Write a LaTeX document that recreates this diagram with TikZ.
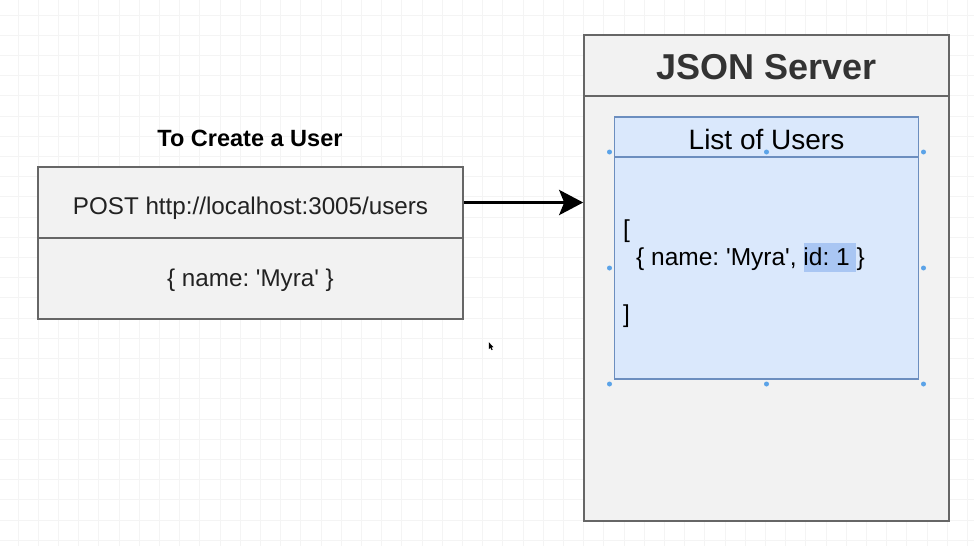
\documentclass[tikz,border=0pt]{standalone}
\usepackage{fontspec}
\setmainfont{Liberation Sans}
\usetikzlibrary{arrows.meta}
\frenchspacing
\definecolor{gridc}{HTML}{F4F4F4}
\definecolor{boxfill}{HTML}{F2F2F2}
\definecolor{boxline}{HTML}{666666}
\definecolor{listfill}{HTML}{DAE8FC}
\definecolor{listline}{HTML}{6C8EBF}
\definecolor{hilite}{HTML}{A9C6F3}
\definecolor{handle}{HTML}{5BA3E8}
\definecolor{txt}{HTML}{222222}
\newcommand\sqt{\textquotesingle}
\begin{document}
\begin{tikzpicture}[x=1pt,y=-1pt,
  gridline/.style={draw=gridc,line width=0.8pt},
  greybox/.style={draw=boxline,fill=boxfill,line width=1.6pt,rectangle,inner sep=0pt},
  bluebox/.style={draw=listline,fill=listfill,line width=1.3pt,rectangle,inner sep=0pt},
  label/.style={inner sep=0pt,anchor=base,text=txt},
  handledot/.style={fill=handle,circle,inner sep=0pt,minimum size=5pt},
  flow/.style={line width=3.6pt,-{Stealth[length=24pt,width=25pt,inset=5pt]}}]
\useasboundingbox (0,0) rectangle (974,546);
\fill[white] (0,0) rectangle (974,546);
% background grid
\foreach \i in {0,...,47} {\draw[gridline] ({18+20.2*\i},0) -- ({18+20.2*\i},546);}
\foreach \j in {0,...,26} {\draw[gridline] (0,{15+20.2*\j}) -- (974,{15+20.2*\j});}

% request card
\node[label,font=\bfseries\fontsize{23.5}{28}\selectfont,text=black] (title) at (250,146.5) {To Create a User};
\node[greybox,minimum width=425pt,minimum height=71pt] (req) at (250.5,202.5) {};
\node[greybox,minimum width=425pt,minimum height=81pt] (body) at (250.5,278.5) {};
\node[label,font=\fontsize{24.2}{28}\selectfont] (reqtext) at (250.5,214) {POST http://localhost:3005/users};
\node[label,font=\fontsize{24.2}{28}\selectfont] (bodytext) at (250.5,286.5) {\{ name: \sqt Myra\sqt\ \}};

% server
\node[greybox,minimum width=365pt,minimum height=61pt] (srvhead) at (766.5,65.5) {};
\node[greybox,minimum width=365pt,minimum height=425pt] (srvbody) at (766.5,308.5) {};
\node[label,font=\bfseries\fontsize{36}{40}\selectfont,text=black!80] (srvtitle) at (766.5,79.3) {JSON Server};

% users list
\node[bluebox,minimum width=304pt,minimum height=40pt] (listhead) at (766.5,137) {};
\node[bluebox,minimum width=304pt,minimum height=222pt] (listbody) at (766.5,268) {};
\node[label,font=\fontsize{28}{32}\selectfont,text=black] (listtitle) at (766.5,149) {List of Users};
\fill[hilite] (804,243.3) rectangle (856,271.7);
\node[label,anchor=base west,font=\fontsize{24.5}{28}\selectfont,text=black] (open) at (623,237) {[};
\node[label,anchor=base west,font=\fontsize{24.5}{28}\selectfont,text=black] (entry) at (636,265) {\{ name: \sqt Myra\sqt, id: 1 \}};
\node[label,anchor=base west,font=\fontsize{24.5}{28}\selectfont,text=black] (close) at (623,322) {]};

% selection handles
\foreach \p [count=\k] in {(609.5,152),(766.5,152),(923.5,152),(609.5,268),(923.5,268),(609.5,384),(766.5,384),(923.5,384)}
  \node[handledot] (h\k) at \p {};

% request arrow
\draw[flow] (req.east) -- (req.east -| srvbody.west);

% mouse pointer
\fill[black] (488.8,342.2) -- (488.8,349.2) -- (490.4,347.7) -- (491.6,350.2) -- (492.6,349.7) -- (491.4,347.3) -- (493.5,347.2) -- cycle;
\end{tikzpicture}
\end{document}
